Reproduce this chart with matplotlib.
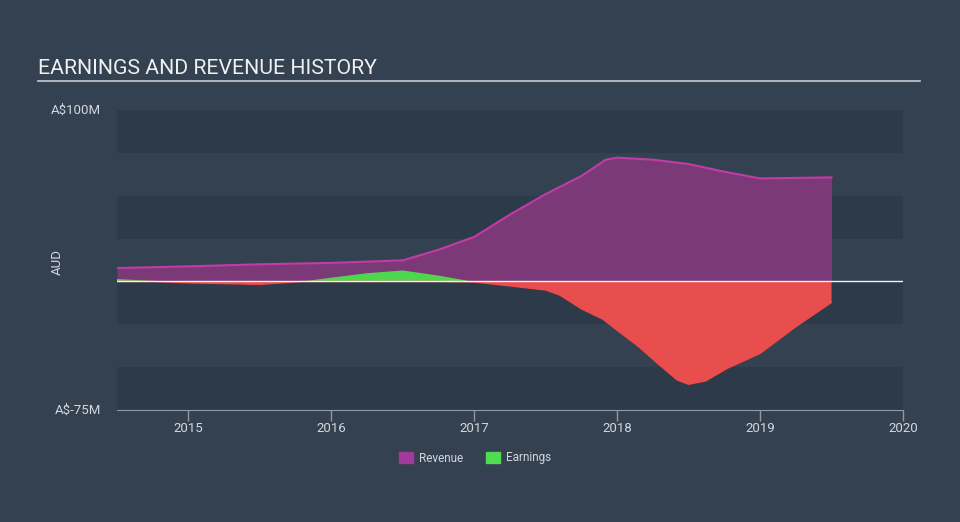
import numpy as np
import matplotlib.pyplot as plt
from matplotlib.patches import Patch

# values in A$ millions
rev_years = [2014.5, 2015.0, 2015.5, 2016.0, 2016.5, 2016.75, 2017.0, 2017.25, 2017.5,
             2017.75, 2017.92, 2018.0, 2018.25, 2018.5, 2018.75, 2019.0, 2019.5]
revenue = [7.8, 8.8, 10.0, 10.8, 12.3, 18.5, 26.0, 39.0, 51.0,
           61.5, 71.0, 72.2, 71.0, 68.5, 64.0, 60.1, 60.7]

earn_years = [2014.5, 2014.75, 2015.0, 2015.5, 2015.8, 2016.0, 2016.25, 2016.5, 2016.75,
              2017.0, 2017.25, 2017.5, 2017.6, 2017.75, 2017.9, 2018.0, 2018.15, 2018.3,
              2018.42, 2018.5, 2018.62, 2018.77, 2019.0, 2019.25, 2019.5]
earnings = [1.4, 0.3, -0.8, -1.7, 0.0, 2.2, 4.8, 6.4, 3.4,
            -0.3, -2.6, -5.0, -8.0, -16.0, -22.0, -28.5, -38.0, -49.0,
            -57.5, -60.0, -58.0, -50.7, -42.0, -26.4, -12.2]

x_ticks = [2015, 2016, 2017, 2018, 2019, 2020]
y_labels = {100: "A$100M", -75: "A$-75M"}

bg = "#334150"
band_dark = "#2d3a4a"
text_col = "#d3d7dc"

plt.rcParams['font.family'] = ['Roboto', 'DejaVu Sans']

fig = plt.figure(figsize=(9.6, 5.22), dpi=100, facecolor=bg)
ax = fig.add_axes([117 / 960, 1 - 410 / 522, (903 - 117) / 960, 300 / 522])
ax.set_facecolor(bg)
ax.set_xlim(2014.5, 2020)
ax.set_ylim(-75, 100)

# alternating bands
for lo in [75, 25, -25, -75]:
    ax.axhspan(lo, lo + 25, color=band_dark, lw=0, zorder=0)

ry = np.array(rev_years)
rv = np.array(revenue)
ax.fill_between(ry, 0, rv, color="#7b3a77", lw=0, zorder=1)
ax.plot(ry, rv, color="#c23ba6", lw=1.5, zorder=3)

ey = np.array(earn_years)
ev = np.array(earnings)
ax.fill_between(ey, 0, ev, where=ev >= 0, interpolate=True, color="#4fd64f", lw=0, zorder=2)
ax.fill_between(ey, 0, ev, where=ev <= 0, interpolate=True, color="#e94e4e", lw=0, zorder=2)
ax.plot(ey, np.minimum(ev, 0), color="#f04a4a", lw=1, zorder=2.5)

ax.axhline(0, color="#f2f2f2", lw=1, zorder=4)

for s in ["top", "right", "left"]:
    ax.spines[s].set_visible(False)
ax.spines["bottom"].set_color("#8e9aa6")
ax.set_xticks(x_ticks)
ax.set_xticklabels([str(t) for t in x_ticks])
ax.tick_params(axis="x", colors="#8e9aa6", length=8, width=1, pad=1,
               labelcolor=text_col, labelsize=9.5)
ax.set_yticks([])
for v, lab in y_labels.items():
    ax.text(-0.02, (v + 75) / 175, lab, transform=ax.transAxes, ha="right", va="center",
            color=text_col, fontsize=9.5)

fig.text(57 / 960, 1 - 262 / 522, "AUD", rotation=90, ha="center", va="center",
         color=text_col, fontsize=9.5)

fig.text(38 / 960, 1 - 68 / 522, "EARNINGS AND REVENUE HISTORY", ha="left", va="center",
         color="#eef0f2", fontsize=15.3)
fig.add_artist(plt.Line2D([38 / 960, 920 / 960], [1 - 81 / 522] * 2, color="#c8ccd1", lw=1.2))

handles = [Patch(color="#a13a9c", label="Revenue"), Patch(color="#4fdc4f", label="Earnings")]
fig.legend(handles=handles, loc="center", bbox_to_anchor=(475 / 960, 1 - 458 / 522), ncol=2,
           frameon=False, fontsize=8.5, labelcolor=text_col, handlelength=1.2, handleheight=1.0,
           columnspacing=2.0, handletextpad=0.5)

fig.savefig("out.png", dpi=100, facecolor=bg)
